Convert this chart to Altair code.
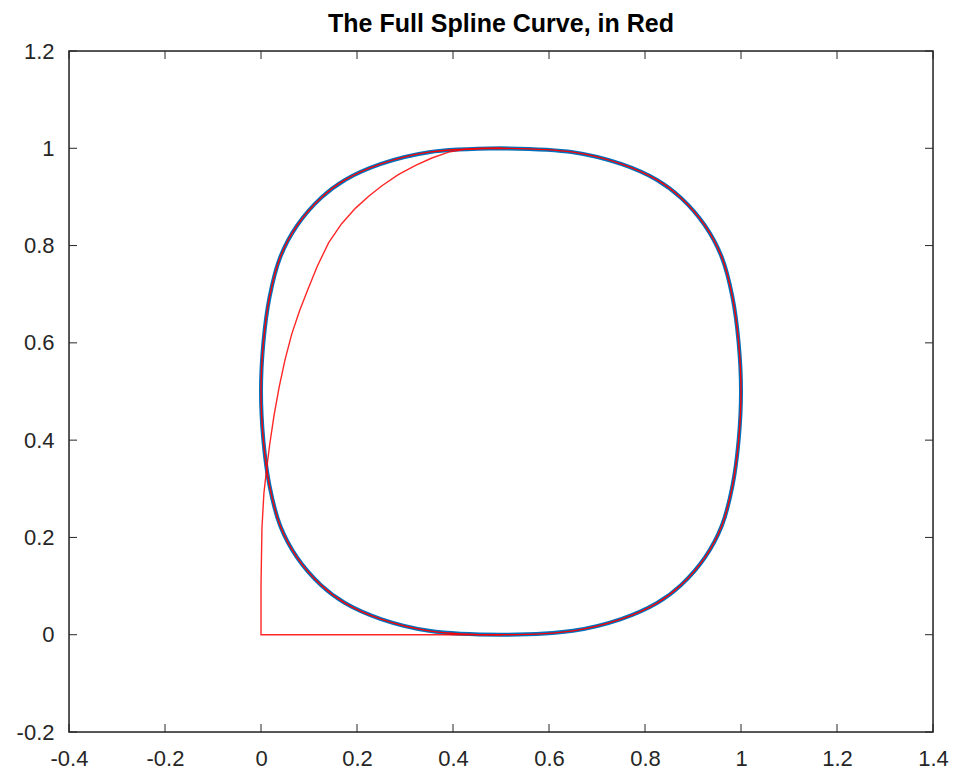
import altair as alt
import pandas as pd

# Closed loop (blue, and red drawn on top), traced clockwise from the top
loop_x = [0.5, 0.65, 0.75, 0.825, 0.875, 0.925, 0.96, 0.982, 0.995, 1.0,
          0.995, 0.982, 0.96, 0.925, 0.875, 0.825, 0.75, 0.65, 0.5,
          0.35, 0.25, 0.175, 0.125, 0.075, 0.04, 0.018, 0.005, 0.0,
          0.005, 0.018, 0.04, 0.075, 0.125, 0.175, 0.25, 0.35, 0.5]
loop_y = [1.0, 0.992, 0.968, 0.935, 0.898, 0.841, 0.776, 0.695, 0.601, 0.5,
          0.399, 0.305, 0.224, 0.159, 0.102, 0.065, 0.032, 0.008, 0.0,
          0.008, 0.032, 0.065, 0.102, 0.159, 0.224, 0.305, 0.399, 0.5,
          0.601, 0.695, 0.776, 0.841, 0.898, 0.935, 0.968, 0.992, 1.0]

# Extra (non-periodic) part of the red spline
extra_x = [0.5, 0.0, 0.0, 0.002, 0.006, 0.011, 0.018, 0.027, 0.038, 0.05,
           0.064, 0.08, 0.097, 0.117, 0.141, 0.168, 0.197, 0.225, 0.252,
           0.286, 0.322, 0.356, 0.391, 0.425, 0.46, 0.5]
extra_y = [0.0, 0.0, 0.1, 0.22, 0.29, 0.335, 0.39, 0.45, 0.51, 0.565,
           0.618, 0.665, 0.708, 0.757, 0.806, 0.845, 0.877, 0.902, 0.923,
           0.946, 0.965, 0.98, 0.992, 0.998, 1.0, 1.0]

x_ticks = [-0.4, -0.2, 0, 0.2, 0.4, 0.6, 0.8, 1, 1.2, 1.4]
y_ticks = [-0.2, 0, 0.2, 0.4, 0.6, 0.8, 1, 1.2]

W, H = 864, 681
TL = 8
AX = "#262626"

loop_df = pd.DataFrame({"x": loop_x, "y": loop_y, "i": list(range(len(loop_x)))})
extra_df = pd.DataFrame({"x": extra_x, "y": extra_y, "i": list(range(len(extra_x)))})
xt_df = pd.DataFrame({"x": x_ticks})
yt_df = pd.DataFrame({"y": y_ticks})
box_df = pd.DataFrame({"k": [0]})

xscale = alt.Scale(domain=[-0.4, 1.4], nice=False, zero=False)
yscale = alt.Scale(domain=[-0.2, 1.2], nice=False, zero=False)

LABEL = "toString(datum.value)"

xaxis = alt.Axis(values=x_ticks, title=None, grid=False, ticks=False, domain=False,
                 labelExpr=LABEL,
                 labelFontSize=22, labelColor=AX, labelFont="Liberation Sans",
                 labelPadding=16, labelFlush=False, labelOverlap=False)
yaxis = alt.Axis(values=y_ticks, title=None, grid=False, ticks=False, domain=False,
                 labelExpr=LABEL,
                 labelFontSize=22, labelColor=AX, labelFont="Liberation Sans",
                 labelPadding=15, labelFlush=False, labelOverlap=False)

X = lambda f: alt.X(f, type="quantitative", scale=xscale, axis=xaxis)
Y = lambda f: alt.Y(f, type="quantitative", scale=yscale, axis=yaxis)

blue = alt.Chart(loop_df).mark_line(color="#0072BD", strokeWidth=4, interpolate="catmull-rom").encode(
    x=X("x"), y=Y("y"), order="i:Q")
red_loop = alt.Chart(loop_df).mark_line(color="#FF0000", strokeWidth=1.4, interpolate="catmull-rom").encode(
    x=X("x"), y=Y("y"), order="i:Q")
red_extra = alt.Chart(extra_df).mark_line(color="#FF0000", strokeWidth=1.4, opacity=0.85).encode(
    x=X("x"), y=Y("y"), order="i:Q")

tick_bottom = alt.Chart(xt_df).mark_rule(color=AX, strokeWidth=1).encode(
    x=X("x"), y=alt.value(H), y2=alt.value(H - TL))
tick_top = alt.Chart(xt_df).mark_rule(color=AX, strokeWidth=1).encode(
    x=X("x"), y=alt.value(0), y2=alt.value(TL))
tick_left = alt.Chart(yt_df).mark_rule(color=AX, strokeWidth=1).encode(
    y=Y("y"), x=alt.value(0), x2=alt.value(TL))
tick_right = alt.Chart(yt_df).mark_rule(color=AX, strokeWidth=1).encode(
    y=Y("y"), x=alt.value(W - TL), x2=alt.value(W))

box = alt.Chart(box_df).mark_rect(filled=False, stroke=AX, strokeWidth=1.5, fillOpacity=0).encode(
    x=alt.value(0), x2=alt.value(W), y=alt.value(0), y2=alt.value(H))

chart = alt.layer(blue, red_loop, red_extra, tick_bottom, tick_top, tick_left, tick_right, box).properties(
    width=W, height=H,
    title=alt.TitleParams("The Full Spline Curve, in Red", fontSize=25, fontWeight="bold",
                          font="Liberation Sans", color="#000000", offset=3, anchor="middle"),
    autosize=alt.AutoSizeParams(type="none"),
    padding={"left": 61, "top": 43, "right": 16, "bottom": 39},
).configure_view(strokeWidth=0).configure(background="white")

chart.save("out.html", embed_options={"renderer": "svg", "actions": False})
